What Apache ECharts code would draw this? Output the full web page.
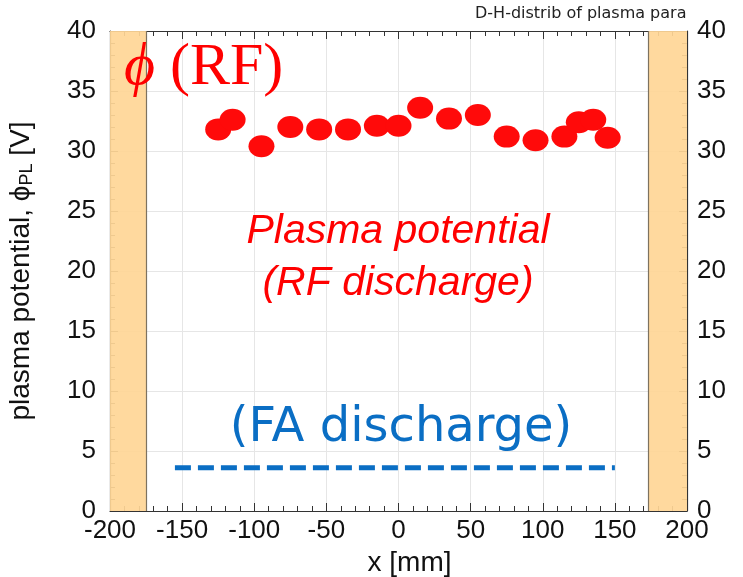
<!DOCTYPE html>
<html>
<head>
<meta charset="utf-8">
<script src="https://cdn.jsdelivr.net/npm/echarts@6/dist/echarts.min.js"></script>
<style>
  html, body { margin: 0; padding: 0; background: #fff; }
  #chart { width: 743px; height: 577px; }
</style>
</head>
<body>
<div id="chart"></div>
<script>
// plasma potential measured in RF discharge
const xPos = [-125, -115, -95, -75, -55, -35, -15, 0, 15, 35, 55, 75, 95, 115, 125, 135, 145]
const phiRF = [31.8, 32.6, 30.4, 32.0, 31.8, 31.8, 32.1, 32.1, 33.6, 32.7, 33.0, 31.2, 30.9, 31.2, 32.4, 32.6, 31.1]
// FA discharge level (dashed)
const faX = [-155, 150]
const faPhi = [3.6, 3.6]
// wall regions
const wallLeft = [-200, -175]
const wallRight = [173, 200]

const chart = echarts.init(document.getElementById('chart'))

const tickFont = { fontFamily: 'Liberation Sans', fontSize: 26, color: '#111' }
const axisLineStyle = { show: true, onZero: false, lineStyle: { color: '#333', width: 1.2 } }

// shared bits for the boxed frame axes
const yBase = {
  type: 'value', min: 0, max: 40, interval: 5,
  axisLine: axisLineStyle,
  axisTick: { show: true, inside: true, length: 8, lineStyle: { color: '#333' } },
  minorTick: { show: true, splitNumber: 5, length: 5, lineStyle: { color: '#333' } }
}
const xBase = {
  type: 'value', min: -200, max: 200, interval: 50,
  axisLine: axisLineStyle,
  axisTick: { show: true, inside: true, length: 8, lineStyle: { color: '#333' } },
  minorTick: { show: true, splitNumber: 5, length: 5, lineStyle: { color: '#333' } }
}

chart.setOption({
  animation: false,
  grid: { left: 110, right: 56, top: 31, bottom: 66, outerBoundsMode: 'none' },
  xAxis: [
    Object.assign({}, xBase, {
      position: 'bottom',
      name: 'x [mm]', nameLocation: 'middle', nameGap: 35,
      nameTextStyle: { fontFamily: 'Liberation Sans', fontSize: 28, color: '#111', padding: [0, 0, 0, 22] },
      axisLabel: Object.assign({ margin: 7 }, tickFont),
      splitLine: { show: true, lineStyle: { color: '#e6e6e6', width: 1 } }
    }),
    Object.assign({}, xBase, {
      position: 'top', axisLabel: { show: false }, splitLine: { show: false }
    })
  ],
  yAxis: [
    Object.assign({}, yBase, {
      position: 'left',
      axisLabel: Object.assign({ margin: 14 }, tickFont),
      name: 'plasma potential, ϕ{sub|PL} [V]', nameLocation: 'middle', nameGap: 74, nameRotate: 90,
      nameTextStyle: {
        fontFamily: 'Liberation Sans', fontSize: 28, color: '#111',
        rich: { sub: { fontFamily: 'Liberation Sans', fontSize: 18, color: '#111', padding: [12, 0, 0, 0] } }
      },
      splitLine: { show: true, lineStyle: { color: '#e6e6e6', width: 1 } }
    }),
    Object.assign({}, yBase, {
      position: 'right',
      axisLabel: Object.assign({ margin: 10 }, tickFont),
      splitLine: { show: false }
    })
  ],
  series: [
    {
      name: 'walls',
      type: 'line',
      data: [],
      silent: true,
      markArea: {
        silent: true,
        itemStyle: { color: '#ffd696', opacity: 0.92 },
        data: [
          [{ xAxis: wallLeft[0] }, { xAxis: wallLeft[1] }],
          [{ xAxis: wallRight[0] }, { xAxis: wallRight[1] }]
        ]
      },
      markLine: {
        silent: true, symbol: 'none', label: { show: false },
        lineStyle: { color: '#7d7260', width: 1.2, type: 'solid' },
        data: [{ xAxis: wallLeft[1] }, { xAxis: wallRight[0] }]
      }
    },
    {
      name: 'FA discharge',
      type: 'line',
      data: faX.map((x, i) => [x, faPhi[i]]),
      symbol: 'none',
      lineStyle: { color: '#0a6ec4', width: 5, type: [16, 7] },
      z: 3
    },
    {
      name: 'RF discharge',
      type: 'scatter',
      data: xPos.map((x, i) => [x, phiRF[i]]),
      symbol: 'circle',
      symbolSize: [26, 22],
      itemStyle: { color: '#ff0a0a', opacity: 1 },
      z: 4
    }
  ],
  graphic: [
    {
      type: 'text', left: 475, top: 6, z: 100,
      style: { text: 'D-H-distrib of plasma para', font: '16px "DejaVu Sans"', fill: '#222' }
    },
    {
      type: 'text', left: 124, top: 38, z: 100,
      style: { text: 'ϕ', font: 'italic 60px "Liberation Serif"', fill: '#ff0000' }
    },
    {
      type: 'text', left: 170, top: 38, z: 100,
      style: { text: '(RF)', font: '60px "Liberation Serif"', fill: '#ff0000' }
    },
    {
      type: 'text', x: 398, y: 232, z: 100,
      style: {
        text: 'Plasma potential', font: 'italic 41px "Liberation Sans"',
        fill: '#ff0000', textAlign: 'center', textVerticalAlign: 'middle'
      }
    },
    {
      type: 'text', x: 398, y: 284, z: 100,
      style: {
        text: '(RF discharge)', font: 'italic 41px "Liberation Sans"',
        fill: '#ff0000', textAlign: 'center', textVerticalAlign: 'middle'
      }
    },
    {
      type: 'text', x: 401, y: 429, z: 100,
      style: {
        text: '(FA discharge)', font: '48px "DejaVu Sans"', fill: '#0a6ec4',
        textAlign: 'center', textVerticalAlign: 'middle'
      }
    }
  ]
})
</script>
</body>
</html>
